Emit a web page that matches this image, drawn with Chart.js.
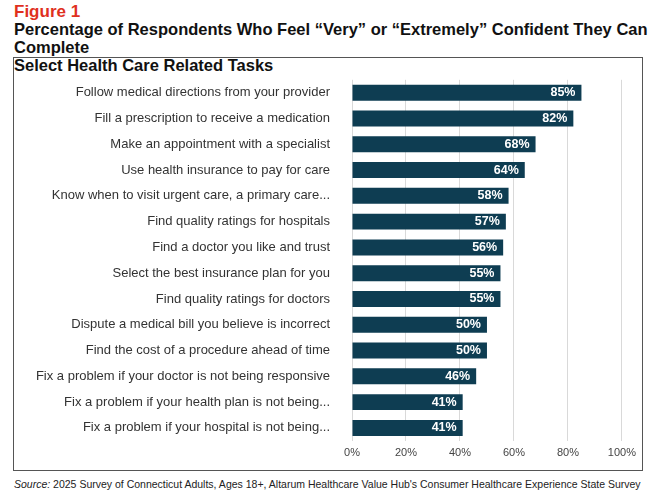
<!DOCTYPE html>
<html><head><meta charset="utf-8">
<script src="https://cdn.jsdelivr.net/npm/chart.js@4"></script>
<style>
body{margin:0;background:#fff;font-family:"Liberation Sans Narrow","Liberation Sans",Arial,sans-serif;}
#fig{position:absolute;left:14px;top:2px;color:#e0301e;font-weight:bold;font-size:17px;}
#ttl{position:absolute;left:14px;top:20px;font-weight:bold;font-size:16.5px;line-height:18px;color:#111;}
#box{position:absolute;left:13px;top:57px;width:628px;height:412px;border:1px solid #555;}
#src{position:absolute;left:14px;top:478px;font-size:10.5px;color:#222;font-family:"Liberation Sans",Arial,sans-serif;}
</style></head><body>
<div id="fig">Figure 1</div>
<div id="ttl">Percentage of Respondents Who Feel “Very” or “Extremely” Confident They Can Complete<br>Select Health Care Related Tasks</div>
<div id="box"><canvas id="c" width="628" height="412"></canvas></div>
<div id="src"><i>Source:</i> 2025 Survey of Connecticut Adults, Ages 18+, Altarum Healthcare Value Hub's Consumer Healthcare Experience State Survey</div>
<script>
const tasks = [
  'Follow medical directions from your provider',
  'Fill a prescription to receive a medication',
  'Make an appointment with a specialist',
  'Use health insurance to pay for care',
  'Know when to visit urgent care, a primary care...',
  'Find quality ratings for hospitals',
  'Find a doctor you like and trust',
  'Select the best insurance plan for you',
  'Find quality ratings for doctors',
  'Dispute a medical bill you believe is incorrect',
  'Find the cost of a procedure ahead of time',
  'Fix a problem if your doctor is not being responsive',
  'Fix a problem if your health plan is not being...',
  'Fix a problem if your hospital is not being...'
];
const confident = [85, 82, 68, 64, 58, 57, 56, 55, 55, 50, 50, 46, 41, 41];

const valueLabels = {
  id: 'valueLabels',
  afterDatasetsDraw(chart) {
    const ctx = chart.ctx;
    ctx.save();
    ctx.fillStyle = '#fff';
    ctx.font = 'bold 12.5px "Liberation Sans Narrow","Liberation Sans",Arial';
    ctx.textAlign = 'right';
    ctx.textBaseline = 'middle';
    chart.getDatasetMeta(0).data.forEach((bar, i) => {
      ctx.fillText(confident[i] + '%', bar.x - 6, bar.y);
    });
    ctx.restore();
  }
};

new Chart(document.getElementById('c'), {
  type: 'bar',
  data: { labels: tasks, datasets: [{ data: confident, backgroundColor: '#0e3d52', barPercentage: 0.62, categoryPercentage: 1 }] },
  options: {
    indexAxis: 'y', responsive: false, animation: false,
    layout: { padding: { top: 12, right: 14, bottom: 4, left: 0 } },
    plugins: { legend: { display: false }, tooltip: { enabled: false } },
    scales: {
      x: { min: 0, max: 100, ticks: { stepSize: 20, callback: v => v + '%', color: '#444', font: { size: 11, family: 'Liberation Sans, Arial' }, padding: 6 },
           grid: { color: '#d9d9d9', drawTicks: false }, border: { display: false } },
      y: { ticks: { color: '#333', font: { size: 13, family: '"Liberation Sans Narrow","Liberation Sans",Arial' }, padding: 14 },
           grid: { display: false }, border: { display: false },
           afterFit: s => { s.width = 338; } }
    }
  },
  plugins: [valueLabels]
});
</script>
</body></html>
